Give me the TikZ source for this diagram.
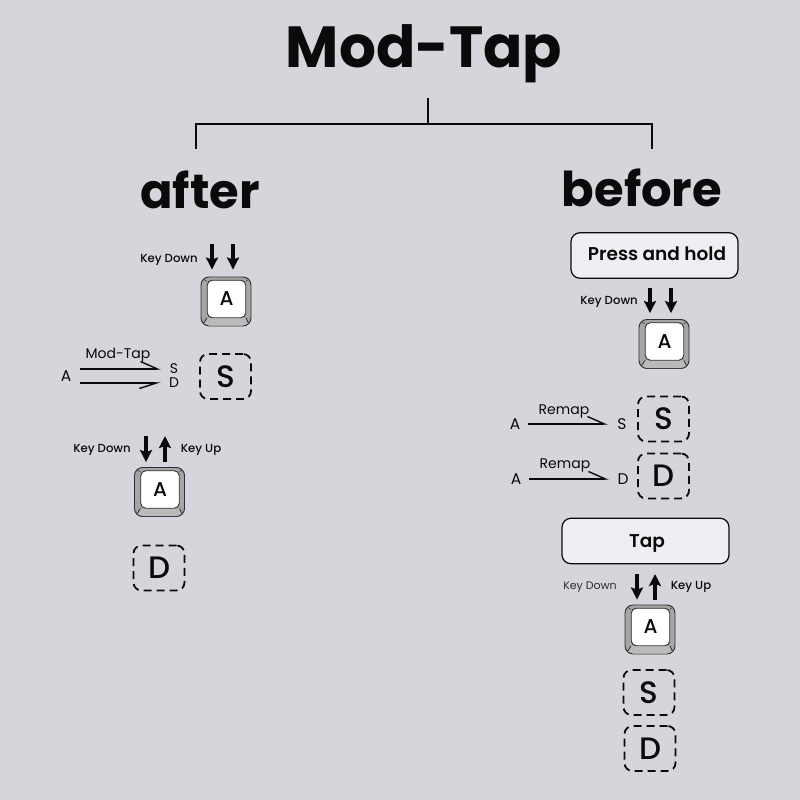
\documentclass[tikz,border=0pt]{standalone}
\usepackage{fontspec}
\setmainfont{Poppins}
\newfontfamily\medfont{Poppins Medium}
\newfontfamily\semifont{Poppins SemiBold}
\usetikzlibrary{arrows.meta,calc}
\definecolor{bground}{HTML}{D5D6DC}
\definecolor{boxfill}{HTML}{EEEEF3}
\definecolor{keyside}{HTML}{A6A6A6}
\definecolor{keybot}{HTML}{BABABA}
\definecolor{ink}{HTML}{0A0A0A}
\definecolor{softink}{HTML}{2E2E2E}
% key cap: name, centre, letter
\newcommand{\keycap}[3]{%
  \node[keyouter] (#1) at (#2) {};
  \begin{scope}[shift={(#1)}]
    \fill[keybot] (-19,16.5) -- (-22.4,21.5) -- (-17,24) -- (17,24) -- (22.4,21.5) -- (20,16.5) -- cycle;
    \draw[softink, line width=0.8pt] (-22.4,21.5) -- (-19,16.5) (20,16.5) -- (22.4,21.5);
    \draw[softink, line width=0.5pt] (-22,-22) -- (-19,-20) (20,-20) -- (22,-22);
  \end{scope}
  \node[keyinner] (#1in) at ($(#1)+(0.5,-2.5)$) {#3};
}

\begin{document}
\begin{tikzpicture}[x=1pt, y=-1pt, every node/.style={text=ink, inner sep=0pt}]
  \tikzset{
    keyouter/.style={draw=softink, fill=keyside, line width=0.9pt, rounded corners=8pt,
                     minimum width=50pt, minimum height=49pt},
    keyinner/.style={draw=softink, fill=white, line width=0.9pt, rounded corners=5pt,
                     minimum width=38.5pt, minimum height=37.5pt, font=\medfont\fontsize{20}{20}\selectfont},
    dashkey/.style={draw=ink, line width=1.8pt, dash pattern=on 8pt off 5pt, rounded corners=8pt,
                    minimum width=51pt, minimum height=45pt, font=\medfont\fontsize{31}{31}\selectfont},
    modebox/.style={draw=ink, fill=boxfill, line width=1.2pt, rounded corners=9pt,
                    minimum width=167pt, minimum height=45.5pt},
    boxtext/.style={font=\semifont\fontsize{18.5}{19}\selectfont},
    keylabel/.style={font=\medfont\fontsize{11.7}{12}\selectfont},
    maplabel/.style={font=\fontsize{14}{14}\selectfont},
    mapletter/.style={font=\fontsize{15.5}{16}\selectfont},
    heading/.style={font=\bfseries\fontsize{48}{48}\selectfont},
    keyarrow/.style={-{Stealth[length=12pt, width=12pt, inset=2pt]}, line width=3.2pt, draw=ink},
    mapup/.style={-{Straight Barb[left, length=17pt, width=15pt]}, line width=1.4pt, draw=ink},
    mapdown/.style={-{Straight Barb[right, length=17pt, width=11pt]}, line width=1.4pt, draw=ink}
  }
  \fill[bground] (0,0) rectangle (800,800);
  \useasboundingbox (0,0) rectangle (800,800);

  % heading and tree
  \node[font=\bfseries\fontsize{58}{58}\selectfont] (title) at (424,54) {Mod-Tap};
  \coordinate (treetop) at (428,98);
  \coordinate (treemid) at (428,124);
  \coordinate (dropl) at (196,149);
  \coordinate (dropr) at (652,149);
  \draw[line width=1.8pt, ink] (treetop) -- (treemid);
  \draw[line width=1.8pt, ink] (dropl) |- (treemid) -| (dropr);
  \node[heading] (after) at (200,190) {after};
  \node[heading] (before) at (642,188) {before};

  % after: first press
  \node[keylabel] (afterdown) at (169,260) {Key Down};
  \keycap{afterkey}{226,301.5}{A}
  \coordinate (ad1) at (212,244);
  \coordinate (ad2) at (233,244);
  \draw[keyarrow, shorten >=7pt] (ad1) -- (ad1 |- afterkey.north);
  \draw[keyarrow, shorten >=7pt] (ad2) -- (ad2 |- afterkey.north);

  % after: mod-tap mapping
  \node[mapletter, minimum width=28pt] (ma) at (66,376) {A};
  \node[maplabel, minimum width=26pt] (ms) at (174,369) {S};
  \node[maplabel, minimum width=26pt] (md) at (174,383) {D};
  \node[maplabel] (mlabel) at (118,355.5) {Mod-Tap};
  \draw[mapup] (ma.east |- ms) -- (ms);
  \draw[mapdown] (ma.east |- md) -- (md);
  \node[dashkey] (afters) at (225.5,376.5) {\raisebox{-1pt}{S}};

  % after: tap
  \node[keylabel] (tapdown) at (102,450) {Key Down};
  \node[keylabel] (tapup) at (201,450) {Key Up};
  \keycap{tapkey}{159.5,492}{A}
  \coordinate (td1) at (146,436);
  \coordinate (tu1) at (165,436);
  \draw[keyarrow, shorten >=5pt] (td1) -- (td1 |- tapkey.north);
  \draw[keyarrow, shorten <=5pt] (tu1 |- tapkey.north) -- (tu1);
  \node[dashkey] (afterd) at (159,568) {\raisebox{-1pt}{D}};

  % before: press and hold
  \node[modebox] (hold) at (654.5,255.5) {};
  \node[boxtext] (holdtext) at (657,254) {Press and hold};
  \node[keylabel] (holddown) at (609,302) {Key Down};
  \keycap{holdkey}{664,344}{A}
  \coordinate (hd1) at (650,288);
  \coordinate (hd2) at (671,288);
  \draw[keyarrow, shorten >=6pt] (hd1) -- (hd1 |- holdkey.north);
  \draw[keyarrow, shorten >=6pt] (hd2) -- (hd2 |- holdkey.north);

  % before: remaps
  \node[mapletter, minimum width=26pt] (ra1) at (515,424) {A};
  \node[mapletter, minimum width=28pt] (rs1) at (622,424) {S};
  \node[maplabel] (rlabel1) at (564,411.5) {Remap};
  \draw[mapup] (ra1) -- (rs1);
  \node[dashkey] (befores) at (663.5,419) {\raisebox{-1pt}{S}};
  \node[mapletter, minimum width=26pt] (ra2) at (516,479) {A};
  \node[mapletter, minimum width=28pt] (rs2) at (623,479) {D};
  \node[maplabel] (rlabel2) at (565,465.5) {Remap};
  \draw[mapup] (ra2) -- (rs2);
  \node[dashkey] (befored) at (663.5,476) {\raisebox{-1pt}{D}};

  % before: tap
  \node[modebox] (tap) at (645.5,541) {};
  \node[boxtext] (taptext) at (647,543) {Tap};
  \node[keylabel, font=\fontsize{11}{12}\selectfont, text=softink] (btdown) at (590,587) {Key Down};
  \node[keylabel] (btup) at (691,587) {Key Up};
  \keycap{btkey}{650,629.5}{A}
  \coordinate (bd1) at (637,574);
  \coordinate (bu1) at (655,574);
  \draw[keyarrow, shorten >=5pt] (bd1) -- (bd1 |- btkey.north);
  \draw[keyarrow, shorten <=5pt] (bu1 |- btkey.north) -- (bu1);
  \node[dashkey] (bts) at (649,692.5) {\raisebox{-1pt}{S}};
  \node[dashkey] (btd) at (650,748.5) {\raisebox{-1pt}{D}};
\end{tikzpicture}
\end{document}
